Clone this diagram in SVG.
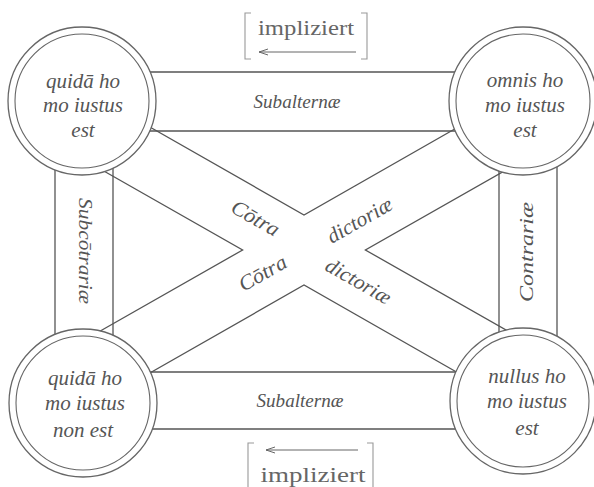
<svg xmlns="http://www.w3.org/2000/svg" width="594" height="487" viewBox="0 0 594 487">
<defs>
<marker id="ah" markerWidth="10" markerHeight="8" refX="9" refY="4" orient="auto" markerUnits="userSpaceOnUse">
<path d="M0,1 L9,4 L0,7" fill="none" stroke="#666" stroke-width="1"/>
</marker>
<style>
.ln{fill:none;stroke:#555;stroke-width:1.3}
.ring{fill:#fff;stroke:#666;stroke-width:1.3}
.ring2{fill:none;stroke:#666;stroke-width:1.1}
.it{font-family:"Liberation Serif","Times New Roman",serif;font-style:italic;fill:#555;text-anchor:middle}
.cl{font-size:21px}
.bl{font-size:19px}
.cx{font-size:21px}
.up{font-family:"Liberation Serif","Times New Roman",serif;fill:#666;text-anchor:middle;font-size:22px}
.br{fill:none;stroke:#999;stroke-width:1.1}
.arr{stroke:#666;stroke-width:1}
</style>
</defs>
<rect width="594" height="487" fill="#fff"/>
<g id="connectors">
<line class="ln" x1="82" y1="72" x2="523" y2="72"/>
<line class="ln" x1="82" y1="131" x2="523" y2="131"/>
<line class="ln" x1="82" y1="372" x2="523" y2="372"/>
<line class="ln" x1="82" y1="429" x2="523" y2="429"/>
<line class="ln" x1="55" y1="101" x2="55" y2="402"/>
<line class="ln" x1="113" y1="101" x2="113" y2="402"/>
<line class="ln" x1="499" y1="101" x2="499" y2="401"/>
<line class="ln" x1="557" y1="101" x2="557" y2="401"/>
<polyline class="ln" points="120,110 304,215 488,110"/>
<polyline class="ln" points="95,166 242.6,250 95,334"/>
<polyline class="ln" points="513,166 365.4,250 513,334"/>
<polyline class="ln" points="120,390 304,285 488,390"/>
<text class="it bl" x="297" y="108" textLength="87" lengthAdjust="spacingAndGlyphs">Subalternæ</text>
<text class="it bl" x="300" y="407" textLength="87" lengthAdjust="spacingAndGlyphs">Subalternæ</text>
<text class="it bl" transform="translate(84,251) rotate(90)" y="5" textLength="106" lengthAdjust="spacingAndGlyphs">Subcōtrariæ</text>
<text class="it bl" transform="translate(528,252) rotate(-90)" y="5" textLength="100" lengthAdjust="spacingAndGlyphs">Contrariæ</text>
<text class="it cx" transform="translate(255,219) rotate(29.7)" y="6" textLength="52" lengthAdjust="spacingAndGlyphs">Cōtra</text>
<text class="it cx" transform="translate(360,221) rotate(-29.7)" y="6" textLength="72" lengthAdjust="spacingAndGlyphs">dictoriæ</text>
<text class="it cx" transform="translate(263,274) rotate(-29.7)" y="6" textLength="52" lengthAdjust="spacingAndGlyphs">Cōtra</text>
<text class="it cx" transform="translate(358,282) rotate(29.7)" y="6" textLength="72" lengthAdjust="spacingAndGlyphs">dictoriæ</text>
</g>
<g id="impl-top">
<path class="br" d="M251,13 L245,13 L245,59 L251,59"/>
<path class="br" d="M361,13 L367,13 L367,59 L361,59"/>
<text class="up" x="306" y="35" textLength="96" lengthAdjust="spacingAndGlyphs">impliziert</text>
<line class="arr" x1="356" y1="52" x2="259" y2="52" marker-end="url(#ah)"/>
</g>
<g id="impl-bottom">
<path class="br" d="M254,443 L248,443 L248,487"/>
<path class="br" d="M367,443 L373,443 L373,487"/>
<line class="arr" x1="358" y1="450" x2="266" y2="450" marker-end="url(#ah)"/>
<text class="up" x="313" y="482" font-size="23" textLength="105" lengthAdjust="spacingAndGlyphs">impliziert</text>
</g>
<g id="n-tl">
<circle class="ring" cx="82" cy="101" r="74"/>
<circle class="ring2" cx="82" cy="101" r="67"/>
<text class="it cl" x="83" y="88">quidā ho</text>
<text class="it cl" x="83" y="112">mo iustus</text>
<text class="it cl" x="83" y="137">est</text>
</g>
<g id="n-tr">
<circle class="ring" cx="523" cy="101" r="74"/>
<circle class="ring2" cx="523" cy="101" r="67"/>
<text class="it cl" x="525" y="87">omnis ho</text>
<text class="it cl" x="525" y="112">mo iustus</text>
<text class="it cl" x="525" y="137">est</text>
</g>
<g id="n-bl">
<circle class="ring" cx="83" cy="403" r="74"/>
<circle class="ring2" cx="83" cy="403" r="67"/>
<text class="it cl" x="85" y="385">quidā ho</text>
<text class="it cl" x="85" y="410">mo iustus</text>
<text class="it cl" x="83" y="437">non est</text>
</g>
<g id="n-br">
<circle class="ring" cx="523" cy="401" r="73"/>
<circle class="ring2" cx="523" cy="401" r="66"/>
<text class="it cl" x="527" y="383">nullus ho</text>
<text class="it cl" x="527" y="408">mo iustus</text>
<text class="it cl" x="527" y="435">est</text>
</g>
</svg>
